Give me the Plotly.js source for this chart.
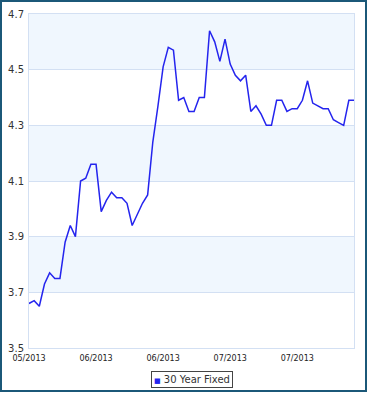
<!DOCTYPE html>
<html>
<head>
<meta charset="utf-8">
<script src="https://cdn.plot.ly/plotly-3.0.1.min.js"></script>
<style>
  html, body { margin: 0; padding: 0; background: #ffffff; }
  #frame { position: absolute; left: 0; top: 0; width: 367px; height: 392px; box-sizing: border-box; border: 2px solid #1b5878; background: #fff; }
  #chart { width: 363px; height: 388px; }
</style>
</head>
<body>
<div id="frame"><div id="chart"></div></div>
<script>
// Data: daily 30 year fixed rates
const seriesName = "30 Year Fixed";
const pointIndex = Array.from({length: 64}, (_, i) => i);
const rates = [
  3.66, 3.67, 3.65, 3.73, 3.77, 3.75, 3.75, 3.88, 3.94, 3.90,
  4.10, 4.11, 4.16, 4.16, 3.99, 4.03, 4.06, 4.04, 4.04, 4.02,
  3.94, 3.98, 4.02, 4.05, 4.24, 4.37, 4.51, 4.58, 4.57, 4.39,
  4.40, 4.35, 4.35, 4.40, 4.40, 4.64, 4.60, 4.53, 4.61, 4.52,
  4.48, 4.46, 4.48, 4.35, 4.37, 4.34, 4.30, 4.30, 4.39, 4.39,
  4.35, 4.36, 4.36, 4.39, 4.46, 4.38, 4.37, 4.36, 4.36, 4.32,
  4.31, 4.30, 4.39, 4.39
];
const xTickPositions = [0, 13, 26, 39, 52];
const xTickLabels = ["05/2013", "06/2013", "06/2013", "07/2013", "07/2013"];
const yTickValues = [3.5, 3.7, 3.9, 4.1, 4.3, 4.5, 4.7];
const yTickLabels = ["3.5", "3.7", "3.9", "4.1", "4.3", "4.5", "4.7"];
const bandRanges = [[3.7, 3.9], [4.1, 4.3], [4.5, 4.7]];

const lineColor = "#2424ee";

const trace = {
  x: pointIndex,
  y: rates,
  type: "scatter",
  mode: "lines",
  name: seriesName,
  line: { color: lineColor, width: 1.5 },
  hoverinfo: "y"
};

const shapes = bandRanges.map(r => ({
  type: "rect", xref: "paper", yref: "y", x0: 0, x1: 1, y0: r[0], y1: r[1],
  fillcolor: "#f0f7fe", line: { width: 0 }, layer: "below"
}));

const layout = {
  width: 363, height: 388,
  margin: { l: 27, r: 11, t: 12, b: 42 },
  paper_bgcolor: "#ffffff",
  plot_bgcolor: "#ffffff",
  showlegend: false,
  font: { family: "DejaVu Sans, Verdana, sans-serif", color: "#333333" },
  xaxis: {
    range: [0, 63],
    tickvals: xTickPositions,
    ticktext: xTickLabels,
    tickfont: { size: 8, color: "#222222" },
    showgrid: false,
    zeroline: false,
    showline: true, linecolor: "#d3e0f3", linewidth: 1, mirror: true,
    ticks: "", ticklabelstandoff: 2
  },
  yaxis: {
    range: [3.5, 4.7],
    tickvals: yTickValues,
    ticktext: yTickLabels,
    tickfont: { size: 10, color: "#333333" },
    showgrid: true, gridcolor: "#d3e0f3", gridwidth: 1,
    zeroline: false,
    showline: true, linecolor: "#d3e0f3", linewidth: 1, mirror: true,
    ticks: "", ticklabelstandoff: 2
  },
  shapes: shapes,
  annotations: [{
    xref: "paper", yref: "paper", x: 0.503, y: -0.093,
    xanchor: "center", yanchor: "middle", showarrow: false,
    text: '<span style="color:' + lineColor + ';font-size:7px">■</span> ' + seriesName,
    font: { size: 10, color: "#333333", family: "DejaVu Sans, Verdana, sans-serif" },
    bgcolor: "#ffffff", bordercolor: "#444444", borderwidth: 1, borderpad: 2
  }]
};

Plotly.newPlot("chart", [trace], layout, { displayModeBar: false, staticPlot: true });
</script>
</body>
</html>
